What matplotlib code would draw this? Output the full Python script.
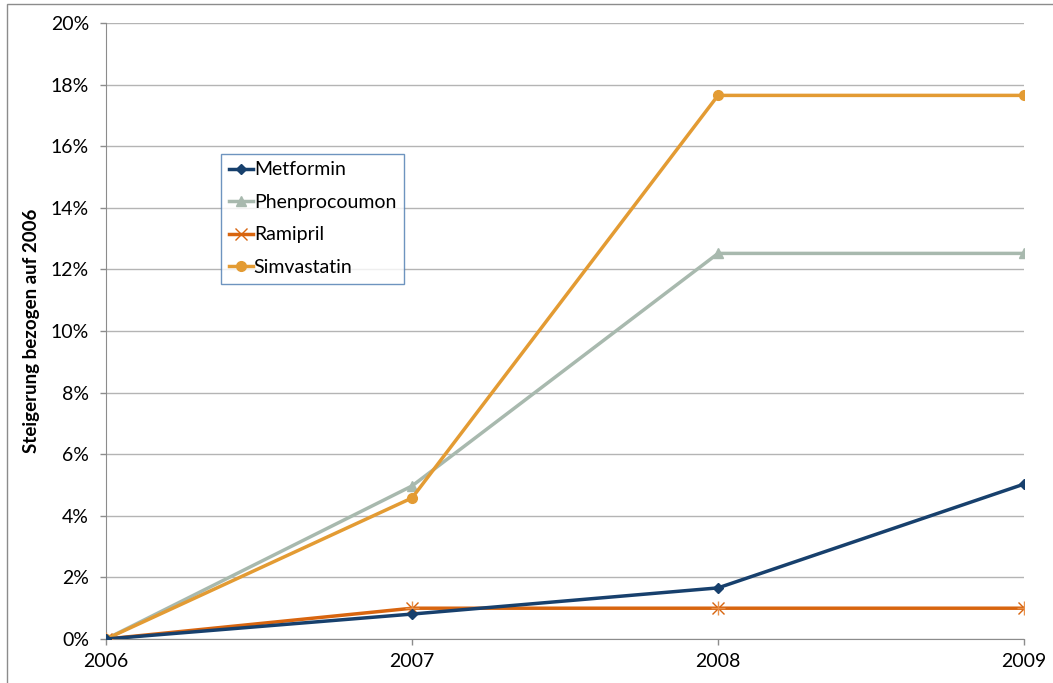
import matplotlib.pyplot as plt
from matplotlib.patches import Rectangle
from matplotlib.ticker import PercentFormatter

# Data
years = [2006, 2007, 2008, 2009]
metformin = [0.0, 0.81, 1.66, 5.03]
phenprocoumon = [0.0, 4.97, 12.52, 12.52]
ramipril = [0.0, 1.0, 1.0, 1.0]
simvastatin = [0.0, 4.58, 17.65, 17.65]

plt.rcParams['font.family'] = ['Lato', 'DejaVu Sans']

fig = plt.figure(figsize=(10.53, 6.83), dpi=100)
ax = fig.add_axes([0.1007, 0.0644, 0.8718, 0.9019])

# Outer chart border like the Excel chart area
fig.patches.append(Rectangle((0.0066, -0.05), 1.2, 0.044 + 1.0, transform=fig.transFigure,
                             fill=False, edgecolor='#8c8c8c', lw=1.0))

ax.plot(years, metformin, '-D', color='#17406d', lw=2.5, ms=5, label='Metformin', zorder=5)
ax.plot(years, phenprocoumon, '-^', color='#a8b9ae', lw=2.5, ms=7, label='Phenprocoumon', zorder=3)
ax.plot(years, ramipril, '-x', color='#d8650f', lw=2.5, ms=9, mew=1.0,
        label='Ramipril', zorder=4)
ax.plot(years, ramipril, '+', color='#e8904a', ms=10, mew=1.0, zorder=4)
ax.plot(years, simvastatin, '-o', color='#e39b33', lw=2.5, ms=7, label='Simvastatin', zorder=4)

ax.set_xlim(2006, 2009)
ax.set_ylim(0, 20)
ax.set_xticks(years)
ax.set_yticks(range(0, 21, 2))
ax.yaxis.set_major_formatter(PercentFormatter(decimals=0))
ax.tick_params(axis='both', labelsize=14, color='#8c8c8c', length=4.3, width=1.0)
ax.tick_params(axis='x', pad=6)
ax.tick_params(axis='y', pad=8)

ax.grid(True, axis='y', color='#b4b4b4', lw=1.0)
ax.set_axisbelow(True)
for s in ['top', 'right']:
    ax.spines[s].set_visible(False)
ax.spines['left'].set_color('#8c8c8c')
ax.spines['bottom'].set_color('#8c8c8c')

ax.set_ylabel('Steigerung bezogen auf 2006', fontsize=13.5, fontweight='bold', labelpad=8)

leg = ax.legend(loc='upper left', bbox_to_anchor=(0.125, 0.788), fontsize=14,
                frameon=True, fancybox=False, handlelength=1.25, handletextpad=0.05,
                borderpad=0.4, labelspacing=0.8, borderaxespad=0)
leg.get_frame().set_edgecolor('#4a7ab0')
leg.get_frame().set_linewidth(1.0)

plt.savefig('out.png', dpi=100)
